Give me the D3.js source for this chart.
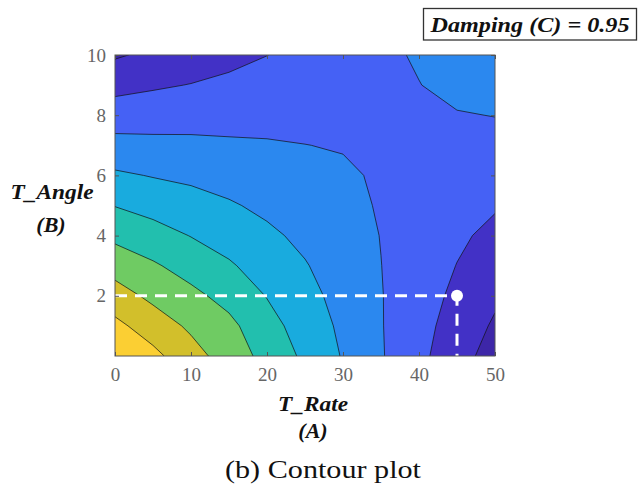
<!DOCTYPE html>
<html><head><meta charset="utf-8">
<script src="https://cdn.jsdelivr.net/npm/d3@7"></script>
<style>body{margin:0;background:#fff}</style>
</head><body>
<svg id="chart" width="638" height="491"></svg>
<script>
// ---- data ----
const xGrid = [0,5,10,15,20,25,30,35,40,45,50];      // T_Rate (A)
const yGrid = [0,1,2,3,4,5,6,7,8,9,10];               // T_Angle (B)
// response level estimated at each grid node, rows = yGrid (bottom to top)
const zRow0  = [9.08,8.26,7.38,6.55,5.68,4.81,3.93,3.08,2.24,1.40,0.57];
const zRow1  = [8.25,7.52,6.83,6.24,5.36,4.56,3.81,3.05,2.32,1.60,0.87];
const zRow2  = [7.43,6.77,6.24,5.68,4.96,4.31,3.67,3.04,2.41,1.80,1.17];
const zRow3  = [6.60,6.12,5.61,5.11,4.57,4.06,3.53,3.01,2.50,1.98,1.48];
const zRow4  = [5.77,5.39,4.97,4.60,4.18,3.79,3.38,2.98,2.59,2.15,1.78];
const zRow5  = [4.97,4.66,4.39,4.10,3.80,3.53,3.24,2.93,2.65,2.30,2.08];
const zRow6  = [4.15,3.95,3.80,3.62,3.44,3.27,3.12,2.90,2.70,2.45,2.39];
const zRow7  = [3.32,3.25,3.21,3.13,3.08,3.01,2.95,2.80,2.75,2.65,2.70];
const zRow8  = [2.50,2.56,2.62,2.67,2.71,2.75,2.75,2.75,2.85,2.95,3.02];
const zRow9  = [1.69,1.88,2.03,2.20,2.35,2.50,2.60,2.75,2.98,3.25,3.30];
const zRow10 = [0.89,1.20,1.45,1.73,1.99,2.30,2.50,2.80,3.10,3.45,3.50];
const zRows = [zRow0,zRow1,zRow2,zRow3,zRow4,zRow5,zRow6,zRow7,zRow8,zRow9,zRow10];
const levels = [1,2,3,4,5,6,7,8];
const bandColors = ["#3d26a8","#4231c6","#4561f5","#2b88ef","#19abde","#22bfae","#6fcb63","#d2bf2b","#fbcf33"];
const xTicks = [0,10,20,30,40,50];
const yTicks = [2,4,6,8,10];
const optPoint = [45, 2];
const xLabel = ["T_Rate", "(A)"];
const yLabel = ["T_Angle", "(B)"];
const boxTitle = "Damping (C) = 0.95";
const caption = "(b) Contour plot";

// ---- layout ----
const svg = d3.select("#chart");
const L = 115, R = 495, T = 55, B = 356;
const x = d3.scaleLinear().domain([0,50]).range([L,R]);
const y = d3.scaleLinear().domain([0,10]).range([B,T]);
const serif = "'Liberation Serif','Times New Roman',serif";

svg.append("defs").append("clipPath").attr("id","plotclip")
  .append("rect").attr("x",L).attr("y",T).attr("width",R-L).attr("height",B-T);

const n = xGrid.length, m = yGrid.length;
const values = zRows.flat();
const contours = d3.contours().size([n,m]).thresholds(levels)(values);
const dxg = xGrid[1]-xGrid[0], dyg = yGrid[1]-yGrid[0];
const proj = d3.geoTransform({point(px,py){
  this.stream.point(x(xGrid[0]+(px-0.5)*dxg), y(yGrid[0]+(py-0.5)*dyg));
}});
const path = d3.geoPath(proj);

const g = svg.append("g").attr("clip-path","url(#plotclip)");
g.append("rect").attr("x",L).attr("y",T).attr("width",R-L).attr("height",B-T).attr("fill",bandColors[0]);
g.selectAll("path.band").data(contours).join("path").attr("class","band")
  .attr("d",path).attr("fill",(d,i)=>bandColors[i+1])
  .attr("stroke","#111").attr("stroke-width",0.7).attr("stroke-linejoin","round");

// dashed guide to optimum point
g.append("path")
  .attr("d",`M${x(0)},${y(optPoint[1])}H${x(optPoint[0])}V${y(0)}`)
  .attr("fill","none").attr("stroke","#fff").attr("stroke-width",3)
  .attr("stroke-dasharray","12,8");
svg.append("circle").attr("cx",x(optPoint[0])).attr("cy",y(optPoint[1])).attr("r",6).attr("fill","#fff");

// axes
const axisColor = "#555";
function styleAxis(sel){
  sel.select(".domain").remove();
  sel.selectAll(".tick line").attr("stroke",axisColor);
  sel.selectAll(".tick text").attr("fill","#666").style("font-family",serif).style("font-size","19px");
}
svg.append("g").attr("transform",`translate(0,${B})`)
  .call(d3.axisBottom(x).tickValues(xTicks).tickSize(-4).tickPadding(12).tickFormat(d3.format("d"))).call(styleAxis);
svg.append("g").attr("transform",`translate(0,${T})`)
  .call(d3.axisTop(x).tickValues(xTicks).tickSize(-4).tickFormat("")).call(styleAxis);
svg.append("g").attr("transform",`translate(${L},0)`)
  .call(d3.axisLeft(y).tickValues(yTicks).tickSize(-4).tickPadding(9).tickFormat(d3.format("d"))).call(styleAxis);
svg.append("g").attr("transform",`translate(${R},0)`)
  .call(d3.axisRight(y).tickValues(yTicks).tickSize(-4).tickFormat("")).call(styleAxis);
svg.append("rect").attr("x",L).attr("y",T).attr("width",R-L).attr("height",B-T)
  .attr("fill","none").attr("stroke",axisColor).attr("stroke-width",1);

// labels
function bi(txt, cx, by, size, len){
  const t = svg.append("text").attr("x",cx).attr("y",by).attr("text-anchor","middle")
    .style("font-family",serif).style("font-weight","bold").style("font-style","italic")
    .style("font-size",size+"px").attr("fill","#111").text(txt);
  if (len) t.attr("textLength",len).attr("lengthAdjust","spacingAndGlyphs");
  return t;
}
bi(xLabel[0], 313, 411, 22, 70);
bi(xLabel[1], 313, 438, 22, null);
bi(yLabel[0], 52, 199, 22, 83);
bi(yLabel[1], 51, 232, 22, null);

svg.append("rect").attr("x",423.5).attr("y",8.5).attr("width",213).attr("height",31.5)
  .attr("fill","#fff").attr("stroke","#333").attr("stroke-width",1.3);
bi(boxTitle, 530, 32, 20, 199);

svg.append("text").attr("x",323).attr("y",478).attr("text-anchor","middle")
  .style("font-family",serif).style("font-size","25px").attr("fill","#111")
  .attr("textLength",196).attr("lengthAdjust","spacingAndGlyphs").text(caption);
</script>
</body></html>
